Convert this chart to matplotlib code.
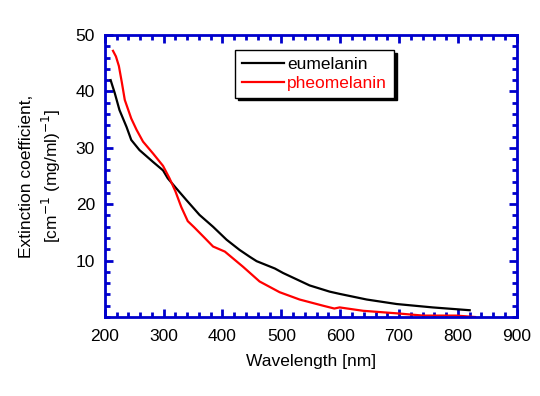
import matplotlib
matplotlib.use("Agg")
import matplotlib.pyplot as plt
from matplotlib.ticker import MultipleLocator

plt.rcParams['font.family'] = ['Liberation Sans', 'DejaVu Sans']

# eumelanin
eu_wl = [210, 217, 225, 237, 245, 259, 282, 299, 307, 320, 339, 361, 384, 407,
         429, 446, 458, 489, 503, 548, 582, 599, 645, 696, 757, 820]
eu_ext = [42.0, 39.7, 36.7, 33.7, 31.4, 29.6, 27.5, 26.0, 24.6, 23.0, 20.7, 18.1,
          16.0, 13.7, 11.9, 10.7, 9.9, 8.6, 7.8, 5.6, 4.5, 4.1, 3.1, 2.3, 1.7, 1.2]

# pheomelanin
ph_wl = [214, 219, 224, 229, 234, 245, 254, 265, 282, 299, 310, 320, 330, 341,
         352, 370, 384, 404, 435, 463, 497, 531, 571, 590, 599, 639, 696, 741,
         797, 829]
ph_ext = [47.2, 46.2, 44.5, 41.6, 38.5, 35.2, 33.2, 31.1, 29.0, 26.8, 24.6, 22.3,
          19.5, 17.0, 15.9, 14.0, 12.5, 11.6, 8.9, 6.3, 4.4, 3.1, 2.0, 1.5, 1.7,
          1.1, 0.65, 0.25, 0.25, 0.0]

blue = '#0000cc'

fig = plt.figure(figsize=(5.4, 3.96), dpi=100)
ax = fig.add_axes([0.194, 0.1995, 0.763, 0.712])

ax.plot(eu_wl, eu_ext, color='black', lw=1.6, label='eumelanin')
ax.plot(ph_wl, ph_ext, color='red', lw=1.6, label='pheomelanin')

ax.set_xlim(200, 900)
ax.set_ylim(0, 50)
ax.xaxis.set_major_locator(MultipleLocator(100))
ax.xaxis.set_minor_locator(MultipleLocator(20))
ax.set_yticks([10, 20, 30, 40, 50])
ax.yaxis.set_minor_locator(MultipleLocator(2))

for s in ax.spines.values():
    s.set_color(blue)
    s.set_linewidth(2)
ax.tick_params(which='both', direction='in', top=True, right=True, color=blue,
               width=2, labelsize=12.5, labelcolor='black')
ax.tick_params(which='major', length=6)
ax.tick_params(axis='x', which='major', pad=9)
ax.tick_params(axis='y', which='major', pad=7)
ax.tick_params(which='minor', length=3.5)

ax.set_xlabel('Wavelength [nm]', fontsize=12.5, labelpad=7)
ax.set_ylabel('Extinction coefficient,\n[cm$^{-1}$ (mg/ml)$^{-1}$]', fontsize=12.5,
              labelpad=9, linespacing=1.35)

leg = ax.legend(loc='upper left', bbox_to_anchor=(0.316, 0.947), fontsize=12.5,
                frameon=True, fancybox=False, shadow={'color': 'black', 'alpha': 1},
                edgecolor='black', framealpha=1, borderpad=0.4, handlelength=2.4,
                handletextpad=0.2, labelspacing=0.2, borderaxespad=0)
leg.get_frame().set_linewidth(1)
for t, c in zip(leg.get_texts(), ['black', 'red']):
    t.set_color(c)

fig.savefig('out.png', dpi=100)
